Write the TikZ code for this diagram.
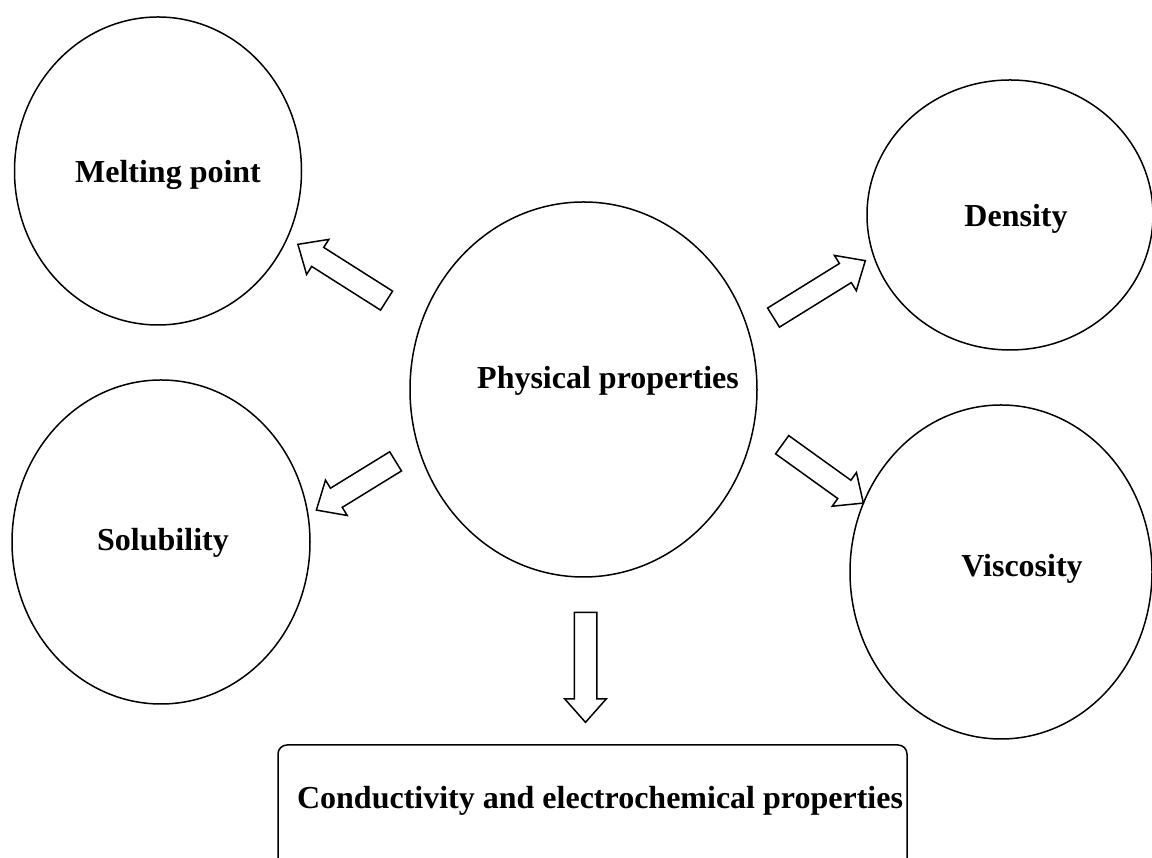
\documentclass[tikz,border=0pt]{standalone}
\usepackage{fontspec}
\setmainfont{Liberation Serif}
\usetikzlibrary{shapes.geometric,shapes.arrows}
\begin{document}
\begin{tikzpicture}[x=1pt,y=1pt,
  bubble/.style={draw=black,line width=1.5pt,ellipse,inner sep=0pt},
  lbl/.style={font=\fontsize{32}{38}\selectfont\bfseries,inner sep=0pt},
  blockarrow/.style={draw=black,line width=1.5pt,single arrow,inner xsep=0pt,inner ysep=10.5pt,
    single arrow head extend=9.5pt,single arrow tip angle=83,minimum height=#1},
  boxstyle/.style={draw=black,line width=1.5pt,rounded corners=9pt}]
\useasboundingbox (0,0) rectangle (1152,858);
\clip (0,0) rectangle (1152,858);
% ellipses
\node[bubble,minimum width=287pt,minimum height=308pt] (melt) at (158,687) {};
\node[bubble,minimum width=298pt,minimum height=324pt] (solu) at (161,316) {};
\node[bubble,minimum width=347pt,minimum height=375pt] (phys) at (583.5,468.5) {};
\node[bubble,minimum width=286pt,minimum height=270pt] (dens) at (1010,643) {};
\node[bubble,minimum width=302pt,minimum height=334pt] (visc) at (1001,286) {};
% box
\draw[boxstyle] (278,113) rectangle (907,-14);
% labels
\node[lbl] (tmelt) at (168,683) {Melting point};
\node[lbl] (tsolu) at (163,315) {Solubility};
\node[lbl] (tphys) at (608,477) {Physical properties};
\node[lbl] (tdens) at (1016,639) {Density};
\node[lbl] (tvisc) at (1022,289) {Viscosity};
\node[lbl] (tcond) at (600,57) {Conductivity and electrochemical properties};
% block arrows
\node[blockarrow=105pt,rotate=147.6] (a1) at (347.6,582.1) {};
\node[blockarrow=93pt,rotate=211.6] (a2) at (361.4,375.6) {};
\node[blockarrow=108pt,rotate=31.8] (a3) at (814,565.5) {};
\node[blockarrow=100pt,rotate=-35.7] (a4) at (817.6,387.8) {};
\node[blockarrow=110pt,rotate=-90] (a5) at (585.5,197) {};
\end{tikzpicture}
\end{document}
